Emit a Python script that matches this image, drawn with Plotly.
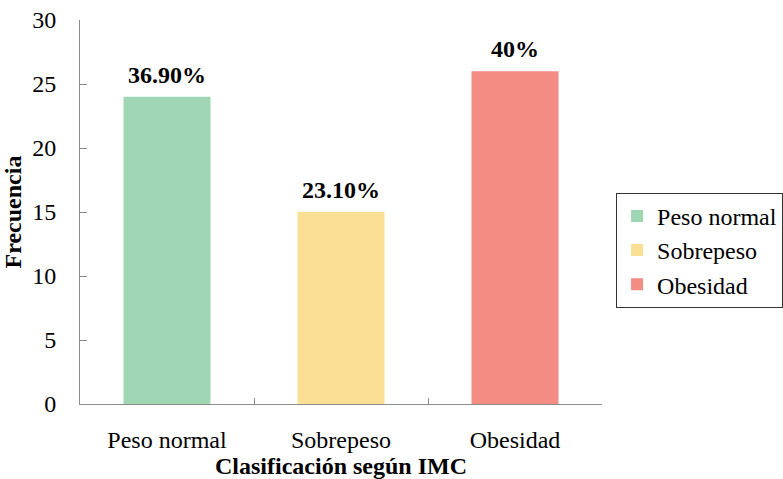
import plotly.graph_objects as go

# Frecuencia por clasificación según IMC
categorias = ["Peso normal", "Sobrepeso", "Obesidad"]
frecuencias = [24, 15, 26]
porcentajes = ["36.90%", "23.10%", "40%"]
colores = ["#A0D6B4", "#FADF95", "#F38C83"]

FONT = "Liberation Serif"

fig = go.Figure()
for cat, val, col in zip(categorias, frecuencias, colores):
    fig.add_trace(go.Bar(
        x=[cat], y=[val], name=cat,
        marker=dict(color=col, line=dict(width=0)),
    ))

# Porcentaje encima de cada barra
for cat, val, pct in zip(categorias, frecuencias, porcentajes):
    fig.add_annotation(
        x=cat, y=val, text=f"<b>{pct}</b>", showarrow=False,
        yanchor="bottom", yshift=7,
        font=dict(family=FONT, size=24, color="black"),
    )

fig.update_layout(
    width=783, height=479,
    margin=dict(l=80, r=181, t=20, b=75, autoexpand=False),
    paper_bgcolor="white", plot_bgcolor="white",
    barmode="overlay", bargap=0.5,
    font=dict(family=FONT, size=24, color="black"),
    showlegend=True,
    legend=dict(
        x=1.027, xanchor="left", y=0.55, yanchor="top",
        bordercolor="#333333", borderwidth=1,
        font=dict(family=FONT, size=24, color="black"),
        itemwidth=30, tracegroupgap=0,
    ),
)

fig.update_xaxes(
    categoryorder="array", categoryarray=categorias,
    showline=True, linecolor="#8c8c8c", linewidth=1,
    ticks="inside", tickson="boundaries", ticklen=6, tickcolor="#8c8c8c",
    ticklabelstandoff=14,
    title=dict(text="<b>Clasificación según IMC</b>", standoff=2,
               font=dict(family=FONT, size=24, color="black")),
    showgrid=False, zeroline=False,
)
fig.update_yaxes(
    range=[0, 30], tickvals=[0, 5, 10, 15, 20, 25, 30],
    showline=True, linecolor="#8c8c8c", linewidth=1,
    ticks="inside", ticklen=7, tickcolor="#8c8c8c",
    ticklabelstandoff=18,
    title=dict(text="<b>Frecuencia</b>", standoff=4,
               font=dict(family=FONT, size=24, color="black")),
    showgrid=False, zeroline=False,
)

fig.write_html("out.html")
